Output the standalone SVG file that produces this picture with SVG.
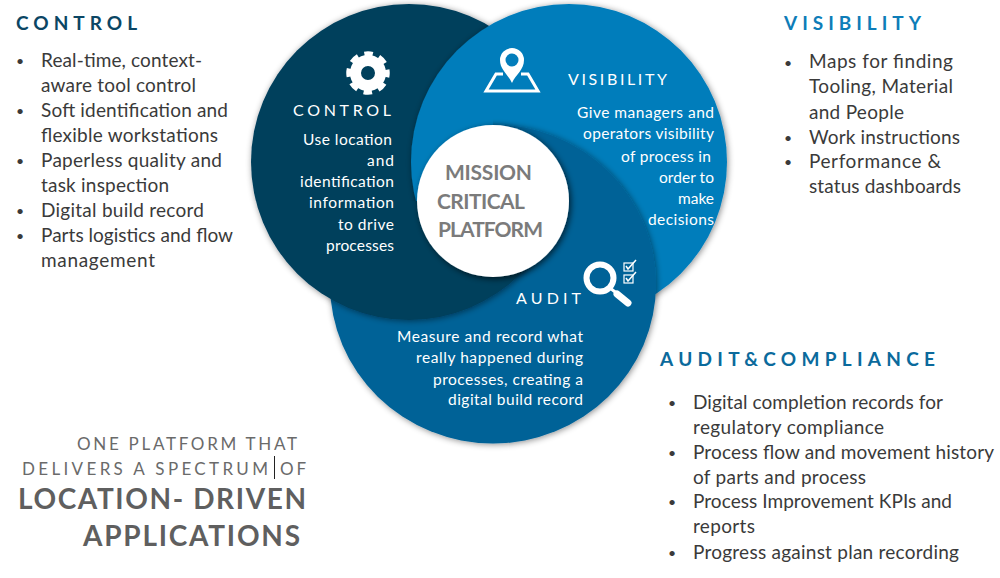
<svg xmlns="http://www.w3.org/2000/svg" width="1000" height="578" viewBox="0 0 1000 578">
<style>
text{font-family:Lato,"Liberation Sans",sans-serif}
.b{font-size:19px;fill:#3a3a3a}
.d{font-size:14px;fill:#3a3a3a}
.w{font-size:15.5px;fill:#fff}
.l{font-size:16px;fill:#fff}
.t{font-size:19px;font-weight:700}
.m{font-size:21px;font-weight:700;fill:#7b7b7b}
.s{font-size:17px;fill:#6a6a6a}
.h{font-size:28px;font-weight:700;fill:#5f5f5f}
.ic{fill:none;stroke:#fff}
</style>
<defs>
<filter id="sh" x="-15%" y="-15%" width="130%" height="130%"><feDropShadow dx="1" dy="1" stdDeviation="3" flood-color="#000" flood-opacity="0.45"/></filter>
<filter id="shw" x="-15%" y="-15%" width="130%" height="130%"><feDropShadow dx="2" dy="2" stdDeviation="3" flood-color="#000" flood-opacity="0.65"/></filter>
<clipPath id="auditClip"><path d="M493 0H760V470H300V201H493Z"/></clipPath>
<clipPath id="highClip"><rect x="220" y="-10" width="360" height="211"/></clipPath>
<clipPath id="lowClip"><rect x="220" y="201" width="360" height="150"/></clipPath>
</defs>
<rect width="1000" height="578" fill="#fff"/>
<g id="control-circle" clip-path="url(#highClip)"><circle cx="409" cy="162" r="158" fill="#063f5c" filter="url(#sh)"/></g>
<g id="visibility-circle"><circle cx="569" cy="162" r="158" fill="#027dbb" filter="url(#sh)"/></g>
<g id="audit-circle" clip-path="url(#auditClip)"><ellipse cx="493" cy="284" rx="163" ry="159.500" fill="#026297" filter="url(#sh)"/></g>
<g id="control-over" clip-path="url(#lowClip)"><circle cx="409" cy="162" r="158" fill="#063f5c" filter="url(#sh)"/></g>

<g id="center-node">
<circle cx="493" cy="201" r="76" fill="#fff" filter="url(#shw)"/>
<text class="m" x="445" y="180" textLength="87">MISSION</text>
<text class="m" x="437" y="209" textLength="88">CRITICAL</text>
<text class="m" x="438" y="237" textLength="105">PLATFORM</text>
</g>

<g id="control-node">
<g id="gear" class="ic">
<circle cx="368" cy="73" r="12.500" stroke-width="11"/>
<circle cx="368" cy="73" r="19" stroke-width="5.500" stroke-dasharray="8.400 6.520" stroke-dashoffset="4.200"/>
</g>
<text class="l" x="293" y="116" textLength="98">CONTROL</text>
<text class="w" x="303" y="145" textLength="89">Use location</text>
<text class="w" x="367" y="166" textLength="27">and</text>
<text class="w" x="300" y="187" textLength="94">identification</text>
<text class="w" x="309" y="208" textLength="85">information</text>
<text class="w" x="338" y="230" textLength="56">to drive</text>
<text class="w" x="326" y="251" textLength="68">processes</text>
</g>

<g id="visibility-node">
<g id="map-pin">
<path d="M512 83C508 74 500 70 500 60a12 12 0 0 1 24 0C524 70 516 74 512 83Z" fill="#fff"/>
<circle cx="512" cy="60" r="6.500" fill="#027dbb"/>
<path d="M503 74H496L486 91H538L528 74H521" class="ic" stroke-width="3"/>
</g>
<text class="l" x="568" y="85" textLength="99">VISIBILITY</text>
<text class="w" x="577" y="118" textLength="137">Give managers and</text>
<text class="w" x="583" y="139" textLength="131">operators visibility</text>
<text class="w" x="621" y="162" textLength="90">of process in</text>
<text class="w" x="659" y="183" textLength="55">order to</text>
<text class="w" x="678" y="204" textLength="36">make</text>
<text class="w" x="648" y="225" textLength="66">decisions</text>
</g>

<g id="audit-node">
<g id="magnifier">
<circle cx="600" cy="278" r="13.500" class="ic" stroke-width="6"/>
<path d="M610 288L628 302" class="ic" stroke-width="3"/>
<path d="M617 294L628 303" class="ic" stroke-width="7" stroke-linecap="round"/>
<rect x="624" y="263" width="9" height="8" class="ic" stroke-width="1.200"/>
<rect x="624" y="275" width="9" height="8" class="ic" stroke-width="1.200"/>
<path d="M626 266L628 269L636 260M626 278L628 281L636 272" class="ic" stroke-width="1.500"/>
</g>
<text class="l" x="516" y="304" textLength="65">AUDIT</text>
<text class="w" x="397" y="342" textLength="186">Measure and record what</text>
<text class="w" x="416" y="363" textLength="167">really happened during</text>
<text class="w" x="433" y="385" textLength="150">processes, creating a</text>
<text class="w" x="448" y="405" textLength="135">digital build record</text>
</g>

<g id="control-list">
<text class="t" x="16" y="30" fill="#0b4664" textLength="121">CONTROL</text>
<text class="d" x="16" y="66">•</text>
<text class="b" x="41" y="67" textLength="161">Real-time, context-</text>
<text class="b" x="41" y="92" textLength="155">aware tool control</text>
<text class="d" x="16" y="116">•</text>
<text class="b" x="41" y="117" textLength="187">Soft identification and</text>
<text class="b" x="41" y="142" textLength="177">flexible workstations</text>
<text class="d" x="16" y="166">•</text>
<text class="b" x="41" y="167" textLength="181">Paperless quality and</text>
<text class="b" x="41" y="192" textLength="128">task inspection</text>
<text class="d" x="16" y="216">•</text>
<text class="b" x="41" y="217" textLength="163">Digital build record</text>
<text class="d" x="16" y="241">•</text>
<text class="b" x="41" y="242" textLength="192">Parts logistics and flow</text>
<text class="b" x="41" y="267" textLength="114">management</text>
</g>

<g id="visibility-list">
<text class="t" x="784" y="30" fill="#0e7db8" textLength="137">VISIBILITY</text>
<text class="d" x="784" y="68">•</text>
<text class="b" x="809" y="68" textLength="144">Maps for finding</text>
<text class="b" x="809" y="93" textLength="144">Tooling, Material</text>
<text class="b" x="809" y="119" textLength="95">and People</text>
<text class="d" x="784" y="143">•</text>
<text class="b" x="809" y="144" textLength="151">Work instructions</text>
<text class="d" x="784" y="167">•</text>
<text class="b" x="809" y="168" textLength="132">Performance &amp;</text>
<text class="b" x="809" y="193" textLength="152">status dashboards</text>
</g>

<g id="audit-list">
<text class="t" x="660" y="366" fill="#0b6a9c" textLength="275">AUDIT&amp;COMPLIANCE</text>
<text class="d" x="668" y="408">•</text>
<text class="b" x="693" y="409" textLength="250">Digital completion records for</text>
<text class="b" x="693" y="434" textLength="191">regulatory compliance</text>
<text class="d" x="668" y="458">•</text>
<text class="b" x="693" y="459" textLength="301">Process flow and movement history</text>
<text class="b" x="693" y="484" textLength="173">of parts and process</text>
<text class="d" x="668" y="507">•</text>
<text class="b" x="693" y="508" textLength="259">Process Improvement KPIs and</text>
<text class="b" x="693" y="533" textLength="62">reports</text>
<text class="d" x="668" y="558">•</text>
<text class="b" x="693" y="559" textLength="266">Progress against plan recording</text>
</g>

<g id="tagline">
<text class="s" x="77" y="450" textLength="220">ONE PLATFORM THAT</text>
<text class="s" x="22" y="475" textLength="246">DELIVERS A SPECTRUM</text>
<path d="M274.500 456V479" stroke="#222" stroke-width="1"/>
<text class="s" x="280" y="475" textLength="26">OF</text>
<text class="h" x="18" y="509" textLength="288">LOCATION- DRIVEN</text>
<text class="h" x="83" y="546" textLength="217">APPLICATIONS</text>
</g>
</svg>
